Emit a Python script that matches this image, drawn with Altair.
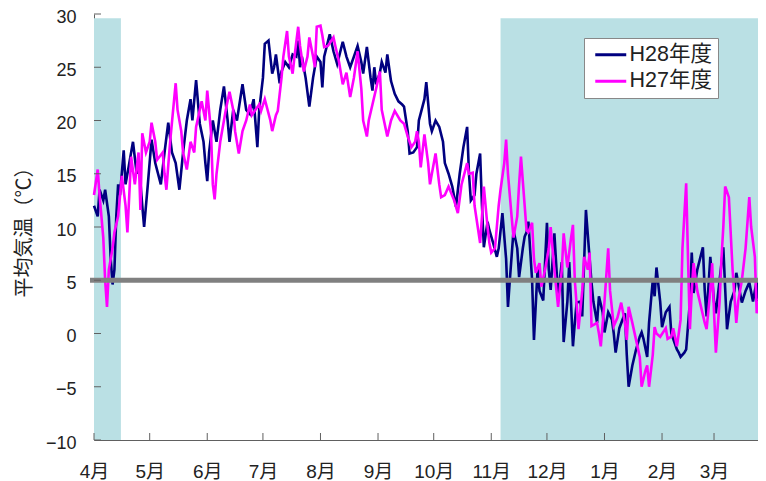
import altair as alt
import pandas as pd

# ---- data (day index from April 1, daily mean temperature in deg C) ----
h28_day = [0, 2, 3, 5, 6, 8, 9, 10, 11, 12, 13, 14, 16, 17, 19, 21, 23, 24, 26, 27, 29,
           31, 33, 36, 38, 40, 42, 44, 46, 48, 50, 52, 53, 55, 57, 59, 60, 61,
           62, 64, 66, 68, 70, 72, 73, 75, 77, 80, 82, 84, 86, 88, 89, 91,
           92, 94, 96, 97, 98, 100, 101, 103, 105, 107, 109, 110, 111, 112, 114, 116, 118, 120, 122,
           123, 124, 127, 129, 131, 134, 136, 138, 140, 142, 144, 145, 147, 149, 150, 151,
           152, 154, 155, 157, 158, 160, 162, 164, 166, 167, 169, 170, 172, 174, 175, 178, 179, 181, 182,
           184, 186, 188, 189, 191, 193, 195, 197, 199, 201, 202, 203, 205, 206, 208, 209, 210, 212, 213,
           215, 217, 218, 220, 222, 223, 224, 226, 228, 229, 231, 232, 233, 234, 236, 237, 239, 240, 242, 244,
           245, 246, 248, 250, 252, 253, 255, 256, 258, 259, 260, 262, 263, 265, 267, 268, 269, 271, 272, 274,
           275, 277, 279, 280, 281, 283, 286, 287, 288, 290, 292, 294, 295, 296, 298, 299, 301, 302, 303, 305,
           306, 308, 310, 311, 314, 315, 316, 318, 319, 321, 322, 323, 325, 328, 329, 330, 332, 334,
           335, 337, 339, 341, 343, 345, 346, 349, 351, 353, 355, 357, 358, 360, 361]
h28_temp = [12, 11, 13.5, 12.5, 13.5, 11, 7, 4.6, 6, 11, 14, 13, 17.2, 14, 16, 18, 15, 16.5, 12, 10, 14,
            18.2, 16, 14, 17, 19.8, 17, 16, 13.5, 17, 20, 22, 20, 23.8, 19.7, 18, 16, 14.3,
            17, 20, 18, 21, 23.2, 20, 18, 21, 20, 23.4, 21, 20.6, 22, 17.5, 21, 24,
            27.2, 27.5, 24.4, 25, 26.2, 23.5, 24.6, 25.5, 25, 26.2, 26, 27.5, 25, 26, 24, 21.3, 24, 26, 25.5,
            23.1, 26, 28.1, 26.5, 25.3, 27.4, 26, 25, 26, 27, 25.5, 24.4, 26.9, 24, 22.8, 25,
            23.4, 24.5, 25.5, 24.5, 26.2, 23.7, 22.5, 21.8, 21.5, 21.3, 19, 16.9, 17, 17.5, 20, 22, 23.6, 19.7, 19,
            20, 19.4, 18, 16, 15, 13.8, 11.9, 15, 17.5, 19.4, 15, 12.5, 13, 15, 16.9, 12, 8.1, 10.5, 9.7,
            8.5, 7.2, 8, 11.3, 7, 2.5, 5, 9.7, 8, 5.3, 8, 9.1, 9.5, 10.5, 5, -0.6, 6.2, 4, 3.1, 10.4,
            6, 4.1, 9.4, 3.5, 6.7, -0.8, 3, 6.7, -1.2, 1, 2.9, 3, 1.6, 11.6, 7, 4.8, 3, 1, 3.5, 2,
            0.1, 2, 1.3, 0, -1.8, 0.5, 1.9, -2, -5, -3, -1.5, -0.3, 0.1, -0.5, -2.2, 1, 5, 3.5, 6.2, 3,
            0.6, 2, 2.5, 0, -1.5, -1.8, -2.2, -1.8, -1.5, 3, 7.6, 3.8, 6, 8.1, 4, 1.6, 7.2, 3,
            1.9, 5, 8.1, 0.4, 3, 4, 5.7, 2.9, 4, 4.8, 3, 5, 2.3, 1.5, 3.5]

h27_day = [0, 2, 3, 5, 6, 7, 8, 10, 11, 13, 15, 17, 18, 19, 20, 22, 24, 25, 26, 28, 30,
           31, 33, 34, 37, 38, 39, 41, 44, 45, 47, 48, 50, 52, 54, 55, 58, 60, 61,
           63, 64, 65, 66, 68, 70, 71, 73, 75, 76, 78, 80, 82, 84, 85, 87, 89, 90,
           92, 95, 96, 98, 99, 101, 102, 104, 105, 107, 108, 110, 111, 113, 115, 116, 118, 119, 120, 122,
           123, 124, 126, 129, 130, 132, 134, 136, 138, 140, 142, 144, 145, 147, 148, 150, 152, 154,
           155, 158, 160, 162, 165, 167, 169, 171, 173, 174, 175, 176, 178, 180, 181, 182,
           184, 186, 187, 189, 191, 194, 196, 198, 201, 202, 204, 205, 208, 209, 210, 212, 213, 214,
           216, 217, 218, 219, 221, 222, 223, 225, 226, 228, 229, 230, 232, 233, 234, 236, 237, 238, 240, 241, 243,
           245, 246, 248, 250, 252, 253, 255, 257, 258, 259, 261, 263, 264, 266, 267, 268, 271, 272, 273,
           275, 277, 278, 280, 282, 284, 286, 287, 288, 290, 292, 294, 295, 297, 298, 299, 301, 302, 303, 305,
           308, 309, 311, 312, 314, 315, 316, 317, 319, 320, 321, 322, 323, 325, 327, 329, 330, 332, 333, 334,
           335, 337, 338, 339, 340, 342, 344, 346, 347, 349, 351, 353, 354, 356, 357, 359, 360, 361.5]
h27_temp = [13, 15.4, 13, 9, 5, 2.5, 6, 8, 9.5, 11, 14.8, 12, 9.5, 13, 16.6, 14, 17, 11.6, 18.8, 17, 18,
            19.8, 18, 16.3, 17, 15, 13.5, 18, 23.5, 21, 19, 17, 15.4, 18, 17, 19.4, 21.8, 20, 22.8,
            19, 14, 12.6, 15, 18, 20, 21, 22.7, 21, 19, 16.9, 19, 20, 21.5, 20.5, 21, 21.5, 20.9,
            22, 20, 19, 20.5, 20.9, 24, 26, 28.4, 26, 24.4, 26, 28.8, 27, 24.6, 26, 27.8, 26, 25, 28.8, 28.9,
            28, 26.9, 27, 27.8, 27, 25.5, 23.4, 24.5, 22.2, 24, 26.5, 23, 20, 18.5, 20, 21.5, 23, 24.6,
            21, 18.5, 20, 20.9, 20, 19.7, 18.5, 17.5, 18, 19, 18, 15.6, 18.7, 16, 14, 15,
            16.9, 14, 12.8, 13, 13.8, 12.5, 11.3, 14, 16, 15, 15.1, 12, 8.5, 11, 13.8, 10, 8.5, 7.6,
            8, 10, 12, 13.5, 16, 18.2, 15, 10.9, 9, 11, 14, 16.6, 12, 9.7, 9.5, 10.4, 7, 5.7, 6.6, 4.4, 6,
            8, 10, 6, 2.5, 6, 9.4, 6.2, 9, 10.2, 5, 0.4, 4, 7.2, 6, 7.6, 0.7, 1, 0, -1.2,
            3, 8, 4, 0.7, 1.5, 2.9, 1, -0.6, 2.5, 1, -0.6, -2.2, -5, -3.5, -3, -5, -2, 0.6, 0, -0.3,
            0.5, -0.5, -0.3, 0.5, -1.2, 0, 1.3, 8, 14.1, 7, 0.4, 4, 6.6, 4, 2.5, 1, 0.4, 4, 6.6, 2,
            -1.8, 3, 7, 10, 13.8, 12.8, 6, 1, 3, 5, 8, 12.8, 10, 7.2, 1.9, 4, 5, 6.6]

series_names = ["H28年度", "H27年度"]
series_colors = ["#000080", "#FF00FF"]

month_days = [0, 30, 61, 91, 122, 153, 183, 214, 244, 275, 306, 334]
month_labels = ["4月", "5月", "6月", "7月", "8月", "9月", "10月", "11月", "12月", "1月", "2月", "3月"]
y_ticks = [-10, -5, 0, 5, 10, 15, 20, 25, 30]

band_start = [0, 219]
band_end = [14.5, 362]
band_top = [29.6, 29.6]
band_bottom = [-10, -10]

threshold = [5]
title_text = ["松本市の平均気温の推移（気象庁データ）"]

# ---- tables ----
df28 = pd.DataFrame({"day": h28_day, "temp": h28_temp, "series": series_names[0]})
df27 = pd.DataFrame({"day": h27_day, "temp": h27_temp, "series": series_names[1]})
bands = pd.DataFrame({"start": band_start, "end": band_end, "top": band_top, "bottom": band_bottom})
thr = pd.DataFrame({"t": threshold})
yt = pd.DataFrame({"v": y_ticks})
xt = pd.DataFrame({"d": month_days})
tt = pd.DataFrame({"t": title_text})

FONT = "Liberation Sans, Noto Sans CJK JP"
AXIS_COLOR = "#606060"
PLOT_W = 672

xs = alt.Scale(domain=[0, 362], range=[0, PLOT_W], nice=False, zero=False)
ys = alt.Scale(domain=[-10, 30], nice=False, zero=False)

label_expr = "".join(f"datum.value == {d} ? '{l}' : " for d, l in zip(month_days, month_labels)) + "''"

x_axis = alt.Axis(values=month_days, labelExpr=label_expr, title="", grid=False,
                  ticks=False, domainColor=AXIS_COLOR, labelFont=FONT,
                  labelFontSize=19, labelColor="#222222", labelPadding=22,
                  labelFlush=False, labelOverlap=False)
y_axis = alt.Axis(values=y_ticks, title="平均気温（℃）", titleFont="Noto Sans CJK JP",
                  titleFontSize=20, titleFontWeight="normal", titleColor="#222222",
                  titleX=-70, titleY=213, titleAlign="center", titleBaseline="middle",
                  grid=False, ticks=False, domainColor=AXIS_COLOR,
                  labelFont="Liberation Sans", labelFontSize=18, labelColor="#222222",
                  labelPadding=18, labelOffset=3, labelFlush=False)

legend = alt.Legend(title=None, orient="none", legendX=490, legendY=24,
                    fillColor="white", strokeColor="#888888", padding=6,
                    symbolType="M-2,0H2", symbolSize=240, symbolStrokeWidth=3,
                    symbolOffset=10, labelFont=FONT, labelFontSize=21.5, labelColor="#222222",
                    rowPadding=3.5, labelOffset=8)
color = alt.Color("series:N", scale=alt.Scale(domain=series_names, range=series_colors), legend=legend)

band_layer = alt.Chart(bands).mark_rect(color="#BAE0E4").encode(
    x=alt.X("start:Q", scale=xs, axis=x_axis), x2="end:Q",
    y=alt.Y("bottom:Q", scale=ys, axis=y_axis), y2="top:Q")

line28 = alt.Chart(df28).mark_line(strokeWidth=2.6).encode(
    x=alt.X("day:Q", scale=xs, axis=x_axis), y=alt.Y("temp:Q", scale=ys, axis=y_axis), color=color)
line27 = alt.Chart(df27).mark_line(strokeWidth=2.6).encode(
    x=alt.X("day:Q", scale=xs, axis=x_axis), y=alt.Y("temp:Q", scale=ys, axis=y_axis), color=color)

thr_layer = alt.Chart(thr).mark_rule(color="#808080", strokeWidth=5).encode(
    y=alt.Y("t:Q", scale=ys, axis=y_axis), x=alt.value(-4), x2=alt.value(PLOT_W))

ytick_layer = alt.Chart(yt).mark_rule(color=AXIS_COLOR, strokeWidth=1).encode(
    y=alt.Y("v:Q", scale=ys, axis=y_axis), x=alt.value(0), x2=alt.value(7))
xtick_layer = alt.Chart(xt).mark_rule(color=AXIS_COLOR, strokeWidth=1).encode(
    x=alt.X("d:Q", scale=xs, axis=x_axis), y=alt.value(426), y2=alt.value(419))

title_layer = alt.Chart(tt).mark_text(font="Noto Sans CJK JP", fontSize=24, baseline="bottom",
                                      align="center", color="#000000").encode(
    text="t:N", x=alt.value(313), y=alt.value(-9))

chart = alt.layer(band_layer, line28, line27, thr_layer, ytick_layer, xtick_layer, title_layer).properties(
    width=664, height=426,
    padding={"left": 86, "top": 6, "right": 0, "bottom": 41},
    autosize=alt.AutoSizeParams(type="none"),
    background="white",
).configure_view(stroke=None)

chart.save("out.html", embed_options={"renderer": "svg", "actions": False})
